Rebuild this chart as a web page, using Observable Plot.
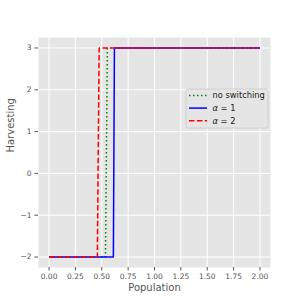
<!DOCTYPE html>
<html><head><meta charset="utf-8">
<script src="https://cdn.jsdelivr.net/npm/d3@7"></script>
<script src="https://cdn.jsdelivr.net/npm/@observablehq/plot@0.6"></script>
<style>body{margin:0;background:#fff;} svg{font-family:"DejaVu Sans";}</style>
</head><body><div id="chart"></div>
<script>
const harvestLevels = [-2, -2, 3, 3];
const noSwitchPop = [0, 0.535, 0.553, 2];
const alpha1Pop = [0, 0.61, 0.62, 2];
const alpha2Pop = [0, 0.458, 0.475, 2];
const xTicks = [0, 0.25, 0.5, 0.75, 1, 1.25, 1.5, 1.75, 2];
const yTicks = [-2, -1, 0, 1, 2, 3];
const seriesNames = ["no switching", "α = 1", "α = 2"];

const mk = (pop) => pop.map((p, i) => ({p, h: harvestLevels[i]}));
const series = [
  {name: seriesNames[0], data: mk(noSwitchPop), stroke: "green", dash: "1.5,2.5"},
  {name: seriesNames[1], data: mk(alpha1Pop), stroke: "blue", dash: null},
  {name: seriesNames[2], data: mk(alpha2Pop), stroke: "red", dash: "5.5,2.4"}
];

const chart = Plot.plot({
  width: 300, height: 300,
  marginLeft: 38, marginRight: 30, marginTop: 37, marginBottom: 33,
  style: {background: "#fff", fontFamily: "DejaVu Sans"},
  x: {domain: [-0.1, 2.1]},
  y: {domain: [-2.25, 3.25]},
  marks: [
    Plot.frame({fill: "#E5E5E5", stroke: null}),
    Plot.gridX(xTicks, {stroke: "#fff", strokeOpacity: 1, strokeWidth: 1}),
    Plot.gridY(yTicks, {stroke: "#fff", strokeOpacity: 1, strokeWidth: 1}),
    Plot.axisX(xTicks, {tickFormat: d3.format(".2f"), tickSize: 3.5, tickPadding: 3, fontSize: 7.5, fill: "#555", stroke: "#555", label: null}),
    Plot.axisY(yTicks, {tickFormat: d => d3.format("d")(d), tickSize: 3.5, tickPadding: 3.5, fontSize: 7.5, fill: "#555", stroke: "#555", label: null}),
    ...series.map(s => Plot.line(s.data, {x: "p", y: "h", stroke: s.stroke, strokeWidth: 1.5, strokeDasharray: s.dash, strokeLinecap: "butt", strokeLinejoin: "miter"})),
    Plot.text(["Population"], {frameAnchor: "bottom", dy: 23, fontSize: 10, fill: "#555"}),
    Plot.text(["Harvesting"], {frameAnchor: "left", dx: -27.5, rotate: -90, fontSize: 10, fill: "#555"})
  ]
});

// Legend
const svg = d3.select(chart);
const lg = svg.append("g").attr("text-anchor", "start");
lg.append("rect").attr("x", 186).attr("y", 89).attr("width", 82).attr("height", 39)
  .attr("rx", 2).attr("fill", "#E5E5E5").attr("stroke", "#cccccc").attr("stroke-width", 0.8);
series.forEach((s, i) => {
  const y = 95.5 + i * 12.6;
  lg.append("line").attr("x1", 189).attr("x2", 207).attr("y1", y).attr("y2", y)
    .attr("stroke", s.stroke).attr("stroke-width", 1.5)
    .attr("stroke-dasharray", s.dash);
  const t = lg.append("text").attr("x", 212.5).attr("y", y).attr("dy", "0.35em")
    .attr("text-anchor", "start")
    .attr("font-size", 8.3).attr("fill", "#222");
  if (i === 0) t.text(s.name);
  else {
    t.append("tspan").attr("font-style", "italic").text("α");
    t.append("tspan").text(s.name.slice(1));
  }
});

document.getElementById("chart").append(chart);
</script>
</body></html>
